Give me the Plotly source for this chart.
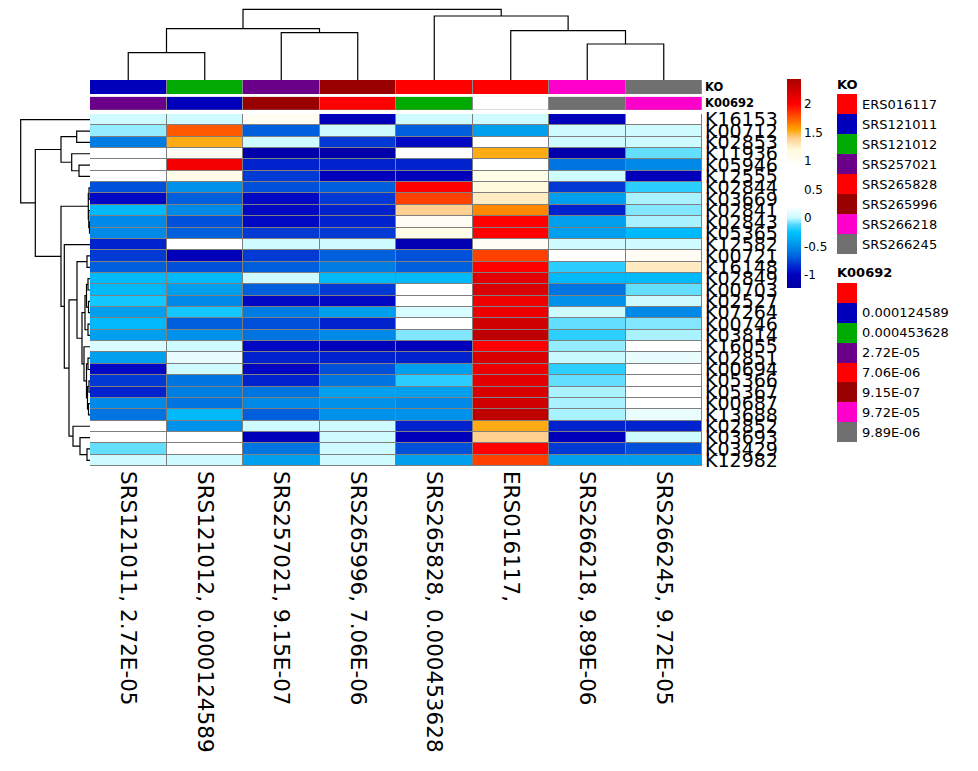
import plotly.graph_objects as go

# page is 978x771; browser body margin is 8px, so the figure is sized to fit inside
PAGE_W, PAGE_H, OFF = 978, 771, 8
W, H = PAGE_W - 2 * OFF, PAGE_H - 2 * OFF

# ---------------- data ----------------
columns = ["SRS121011", "SRS121012", "SRS257021", "SRS265996",
           "SRS265828", "ERS016117", "SRS266218", "SRS266245"]
k00692_vals = ["2.72E-05", "0.000124589", "9.15E-07", "7.06E-06",
               "0.000453628", "", "9.89E-06", "9.72E-05"]
col_labels = [f"{c}, {v}" for c, v in zip(columns, k00692_vals)]

rows = ["K16153", "K00712", "K02853", "K11936", "K05946", "K12555", "K02844",
        "K03669", "K02841", "K02843", "K05365", "K12582", "K00721", "K16148",
        "K02849", "K00703", "K02527", "K07264", "K00746", "K03814", "K16055",
        "K02851", "K00694", "K05366", "K05367", "K00687", "K13688", "K02852",
        "K03693", "K03429", "K12982"]

values = [
    [0.02, 0.02, 1.0, -1.02, 0.02, 0.02, -1.02, 0.6],
    [-0.05, 1.75, -0.68, 0.02, -0.68, -0.42, 0.02, 0.02],
    [-0.57, 1.53, 0.02, -0.8, -0.97, 0.6, 0.02, 0.02],
    [0.6, 1.0, -1.15, -1.15, 0.6, 1.53, -1.15, -0.1],
    [0.6, 2.05, -0.87, -0.87, -0.87, 0.6, -0.6, -0.52],
    [0.6, 1.1, -0.8, -1.02, -1.02, 1.1, 0.02, -1.02],
    [-0.73, -0.48, -0.73, -0.68, 2.0, 1.18, -0.8, -0.18],
    [-0.97, -0.68, -0.97, -0.8, 1.82, 1.27, -0.42, -0.03],
    [-0.3, -0.52, -0.97, -0.87, 1.4, 1.63, -0.87, -0.07],
    [-0.52, -0.73, -0.97, -0.87, 1.0, 2.0, -0.42, -0.03],
    [-0.52, -0.68, -0.8, -0.8, 1.1, 2.0, -0.42, -0.3],
    [-0.87, 0.6, 0.02, 0.02, -1.1, 1.0, 0.02, 0.02],
    [-0.8, -1.02, -0.8, -0.68, -0.73, 1.82, 0.6, 1.0],
    [-0.68, -0.73, -0.68, -0.57, -0.68, 2.0, -0.18, 1.27],
    [-0.3, -0.3, 0.02, -0.3, -0.3, 2.15, -0.3, -0.3],
    [-0.3, -0.42, -0.68, -0.8, 0.6, 2.2, -0.6, -0.1],
    [-0.22, -0.52, -0.97, -0.97, 0.6, 2.1, -0.48, 0.02],
    [-0.42, -0.22, -0.57, -0.42, 0.06, 2.1, 0.02, -0.52],
    [-0.3, -0.68, -0.73, -0.87, 0.6, 2.25, -0.1, -0.07],
    [-0.42, -0.48, -0.6, -0.52, -0.07, 2.33, -0.18, -0.03],
    [0.06, 0.02, -0.97, -1.02, -1.02, 2.0, -0.05, 0.6],
    [-0.42, 0.12, -0.87, -0.87, -0.87, 2.2, 0.0, 0.12],
    [-0.97, 0.02, -0.97, -0.73, -0.42, 2.1, -0.18, 0.6],
    [-0.8, -0.6, -0.87, -0.6, -0.18, 2.15, -0.1, 0.6],
    [-0.87, -0.57, -0.6, -0.42, -0.42, 2.2, -0.03, 0.6],
    [-0.52, -0.6, -0.52, -0.48, -0.52, 2.25, -0.03, 0.6],
    [-0.6, -0.3, -0.68, -0.48, -0.48, 2.33, -0.03, 0.12],
    [0.6, -0.48, 0.02, 0.02, -0.87, 1.53, -0.87, -0.87],
    [0.6, 0.6, -1.02, 0.02, -1.02, 1.4, -1.02, 0.02],
    [-0.1, 0.6, -0.6, 0.02, -0.73, 2.0, -0.8, -0.73],
    [0.02, 0.02, -0.42, 0.02, -0.42, 1.82, -0.42, -0.42],
]

# dendrogram merge trees: (left, right, height); ints are leaf indices
col_tree = (((0, 1, 27.3), (2, 3, 47.3), 51.3),
            (4, (5, (6, 7, 36.0), 49.3), 64.0), 70.7)

row_tree = (0,
            (((1, 2, 13.3), (3, (4, 5, 11.0), 18.3), 29.0),
             (((6, 7, 1.0), (8, (9, 10, 0.5), 1.2), 1.7),
              (11,
               (((12, 13, 3.0),
                 ((((14, 15, 2.0), (16, 17, 1.5), 3.5), (18, 19, 2.0), 5.0),
                  (20, ((21, 22, 2.0), ((23, 24, 1.0), (25, 26, 1.5), 2.5), 3.5), 6.0),
                  8.0),
                 13.0),
                (27, (28, (29, 30, 3.0), 10.0), 17.0),
                21.0),
               25.7),
              29.0),
             54.7),
            69.3)

ko_legend_names = ["ERS016117", "SRS121011", "SRS121012", "SRS257021",
                   "SRS265828", "SRS265996", "SRS266218", "SRS266245"]
ko_legend_colors = ["#FF0000", "#0000BB", "#00AA00", "#6A008A",
                    "#FF0000", "#990000", "#FF00CC", "#707070"]
k_legend_names = ["", "0.000124589", "0.000453628", "2.72E-05",
                  "7.06E-06", "9.15E-07", "9.72E-05", "9.89E-06"]
k_legend_colors = ["#FF0000", "#0000BB", "#00AA00", "#6A008A",
                   "#FF0000", "#990000", "#FF00CC", "#707070"]
k_annot_missing_color = "#FFFFFF"

# colour ramp (value, colour)
zmin, zmax = -1.23, 2.44
ramp = [(-1.23, "rgb(0,0,160)"), (-1.0, "rgb(0,0,190)"), (-0.85, "rgb(0,40,208)"),
        (-0.7, "rgb(0,90,220)"), (-0.55, "rgb(0,130,228)"), (-0.4, "rgb(0,165,240)"),
        (-0.25, "rgb(0,195,255)"), (-0.12, "rgb(80,216,255)"), (0.0, "rgb(200,250,255)"),
        (0.2, "rgb(255,255,255)"), (0.9, "rgb(255,255,255)"), (1.2, "rgb(255,250,220)"),
        (1.4, "rgb(255,208,144)"), (1.55, "rgb(255,165,0)"), (1.75, "rgb(255,90,0)"),
        (2.0, "rgb(255,0,0)"), (2.44, "rgb(170,0,0)")]
colorscale = [[(v - zmin) / (zmax - zmin), c] for v, c in ramp]

FONT = "DejaVu Sans"


def px_x(p):
    return (p - OFF) / W


def px_y(p):
    return 1 - (p - OFF) / H


def discrete_scale(colors):
    n = len(colors)
    cs = []
    for i, c in enumerate(colors):
        cs.append([i / n, c])
        cs.append([(i + 1) / n, c])
    return cs


def dendro_segments(tree):
    xs, ys = [], []

    def rec(t):
        if isinstance(t, int):
            return float(t), 0.0
        l, r, h = t
        cl, hl = rec(l)
        cr, hr = rec(r)
        xs.extend([cl, cl, cr, cr, None])
        ys.extend([hl, h, h, hr, None])
        return (cl + cr) / 2, h

    rec(tree)
    return xs, ys


nrow, ncol = len(rows), len(columns)
fig = go.Figure()

# main heatmap
fig.add_trace(go.Heatmap(
    z=values, x=list(range(ncol)), y=list(range(nrow)),
    colorscale=colorscale, zmin=zmin, zmax=zmax, xgap=1, ygap=1,
    xaxis="x", yaxis="y",
    colorbar=dict(x=px_x(787), xanchor="left", y=px_y(79), yanchor="top",
                  len=(288 - 79) / H, lenmode="fraction", thickness=14,
                  xpad=0, ypad=0, outlinewidth=0,
                  tickvals=[-1, -0.5, 0, 0.5, 1, 1.5, 2],
                  ticktext=["-1", "-0.5", "0", "0.5", "1", "1.5", "2"],
                  ticks="", tickfont=dict(family=FONT, size=12, color="black"))))

# annotation rows
ko_map = dict(zip(ko_legend_names, ko_legend_colors))
ko_cols = [ko_map[c] for c in columns]
fig.add_trace(go.Heatmap(z=[list(range(ncol))], x=list(range(ncol)), y=[0],
                         colorscale=discrete_scale(ko_cols), zmin=-0.5, zmax=ncol - 0.5,
                         showscale=False, xgap=1, xaxis="x", yaxis="y2"))
k_map = dict(zip(k_legend_names, k_legend_colors))
k_map[""] = k_annot_missing_color
k_cols = [k_map[v] for v in k00692_vals]
fig.add_trace(go.Heatmap(z=[list(range(ncol))], x=list(range(ncol)), y=[0],
                         colorscale=discrete_scale(k_cols), zmin=-0.5, zmax=ncol - 0.5,
                         showscale=False, xgap=1, xaxis="x", yaxis="y3"))

# column dendrogram
cx, cy = dendro_segments(col_tree)
fig.add_trace(go.Scatter(x=cx, y=cy, mode="lines", line=dict(color="black", width=1.2),
                         xaxis="x", yaxis="y4", showlegend=False, hoverinfo="skip",
                         cliponaxis=False))
# row dendrogram
ry, rx = dendro_segments(row_tree)
fig.add_trace(go.Scatter(x=rx, y=ry, mode="lines", line=dict(color="black", width=1.2),
                         xaxis="x5", yaxis="y5", showlegend=False, hoverinfo="skip",
                         cliponaxis=False))

# legends (colour boxes)
nk = len(ko_legend_names)
fig.add_trace(go.Heatmap(z=[[i] for i in range(nk)], x=[0], y=list(range(nk)),
                         colorscale=discrete_scale(ko_legend_colors), zmin=-0.5, zmax=nk - 0.5,
                         showscale=False, xaxis="x6", yaxis="y6"))
nk2 = len(k_legend_names)
fig.add_trace(go.Heatmap(z=[[i] for i in range(nk2)], x=[0], y=list(range(nk2)),
                         colorscale=discrete_scale(k_legend_colors), zmin=-0.5, zmax=nk2 - 0.5,
                         showscale=False, xaxis="x7", yaxis="y7"))

hidden = dict(showgrid=False, zeroline=False, showticklabels=False, ticks="",
              showline=False, autorange=False, fixedrange=True)


def tickfont(s):
    return dict(family=FONT, size=s, color="black")


fig.update_layout(
    width=W, height=H, margin=dict(l=0, r=0, t=0, b=0, autoexpand=False),
    paper_bgcolor="white", plot_bgcolor="rgba(0,0,0,0)", showlegend=False,
    font=dict(family=FONT, color="black"),
    xaxis=dict(domain=[px_x(90), px_x(702)], range=[-0.5, ncol - 0.5], anchor="y",
               tickvals=list(range(ncol)), ticktext=col_labels, tickangle=90,
               tickfont=tickfont(21.5), ticklabelstandoff=4,
               showgrid=False, zeroline=False, ticks=""),
    yaxis=dict(domain=[px_y(466), px_y(114)], range=[nrow - 0.5, -0.5], anchor="x",
               side="right", tickvals=list(range(nrow)), ticktext=rows,
               tickfont=tickfont(19), ticklabelstandoff=2,
               showgrid=False, zeroline=False, ticks=""),
    yaxis2=dict(domain=[px_y(94), px_y(80)], range=[-0.5, 0.5], anchor="x", side="right",
                tickvals=[0], ticktext=["<b>KO</b>"], tickfont=tickfont(11.5),
                ticklabelstandoff=2, showgrid=False, zeroline=False, ticks=""),
    yaxis3=dict(domain=[px_y(110), px_y(96.7)], range=[-0.5, 0.5], anchor="x", side="right",
                tickvals=[0], ticktext=["<b>K00692</b>"], tickfont=tickfont(11.5),
                ticklabelstandoff=2, showgrid=False, zeroline=False, ticks=""),
    yaxis4=dict(domain=[px_y(80), 1.0], range=[0, 72], anchor="x", **hidden),
    xaxis5=dict(domain=[px_x(8), px_x(90)], range=[82, 0], anchor="y5", **hidden),
    yaxis5=dict(domain=[px_y(466), px_y(114)], range=[nrow - 0.5, -0.5], anchor="x5", **hidden),
    xaxis6=dict(domain=[px_x(837), px_x(857)], range=[-0.5, 0.5], anchor="y6", **hidden),
    yaxis6=dict(domain=[px_y(254), px_y(94)], range=[nk - 0.5, -0.5], anchor="x6", side="right",
                tickvals=list(range(nk)), ticktext=ko_legend_names, tickfont=tickfont(13),
                ticklabelstandoff=4, showgrid=False, zeroline=False, ticks=""),
    xaxis7=dict(domain=[px_x(837), px_x(857)], range=[-0.5, 0.5], anchor="y7", **hidden),
    yaxis7=dict(domain=[px_y(442), px_y(283)], range=[nk2 - 0.5, -0.5], anchor="x7", side="right",
                tickvals=list(range(nk2)), ticktext=k_legend_names, tickfont=tickfont(13),
                ticklabelstandoff=4, showgrid=False, zeroline=False, ticks=""),
    annotations=[
        dict(text="<b>KO</b>", x=px_x(835), y=px_y(84), xref="paper", yref="paper",
             xanchor="left", yanchor="middle", showarrow=False,
             font=dict(family=FONT, size=13, color="black")),
        dict(text="<b>K00692</b>", x=px_x(835), y=px_y(272), xref="paper", yref="paper",
             xanchor="left", yanchor="middle", showarrow=False,
             font=dict(family=FONT, size=13, color="black")),
    ],
    shapes=[
        dict(type="rect", xref="x", yref="y", x0=-0.5, x1=ncol - 0.5,
             y0=-0.5, y1=nrow - 0.5, fillcolor="#7f7f7f", line=dict(width=0), layer="below"),
        dict(type="rect", xref="x", yref="y2", x0=-0.5, x1=ncol - 0.5,
             y0=-0.5, y1=0.5, fillcolor="#8a8a8a", line=dict(width=0), layer="below"),
        dict(type="rect", xref="x", yref="y3", x0=-0.5, x1=ncol - 0.5,
             y0=-0.5, y1=0.5, fillcolor="#8a8a8a", line=dict(width=0), layer="below"),
    ],
)

fig.write_html("out.html")
